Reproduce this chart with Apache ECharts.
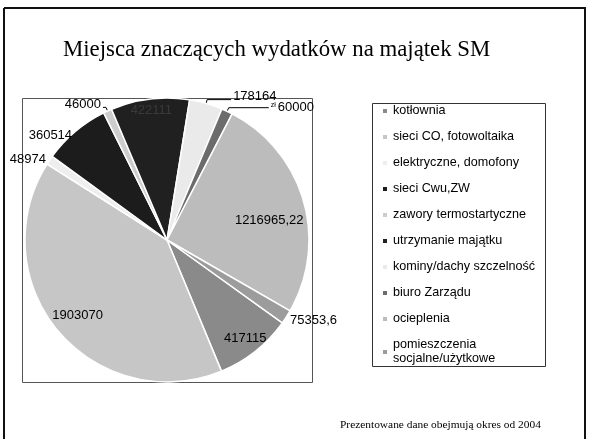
<!DOCTYPE html>
<html>
<head>
<meta charset="utf-8">
<script src="https://cdn.jsdelivr.net/npm/echarts@6/dist/echarts.min.js"></script>
<style>
  html, body { margin: 0; padding: 0; background: #fff; }
  #content { width: 589px; height: 439px; }
</style>
</head>
<body>
<div id="content"></div>
<script>
// dane z wykresu (zgodnie z ruchem wskazówek zegara)
var names = ['kotłownia', 'sieci CO, fotowoltaika', 'elektryczne, domofony', 'sieci Cwu,ZW',
  'zawory termostartyczne', 'utrzymanie majątku', 'kominy/dachy szczelność', 'biuro Zarządu',
  'ocieplenia', 'pomieszczenia socjalne/użytkowe'];
var values = [417115, 1903070, 48974, 360514, 46000, 422111, 178164, 60000, 1216965.22, 75353.6];
var colors = ['#8a8a8a', '#c6c6c6', '#eeeeee', '#1c1c1c', '#cdcdcd', '#202020', '#eaeaea', '#6c6c6c', '#bcbcbc', '#9c9c9c'];

var CX = 167, CY = 240, R = 142;
// etykiety wewnątrz: indeks -> ułamek promienia
var insideRatio = {0: 0.85, 1: 0.79, 5: 0.88, 8: 0.72};
var myChart = echarts.init(document.getElementById('content'), null, {renderer: 'canvas'});

function fmt(v) {
  return String(v).replace('.', ',');
}

var data = names.map(function (n, i) {
  var item = {name: n, value: values[i], itemStyle: {color: colors[i]}};
  if (insideRatio[i] !== undefined) {
    item.label = {position: 'inside', color: i === 5 ? '#3a3a3a' : '#000'};
  }
  if (i === 4) { // 46000
    item.labelLine = {show: true, length: 4, length2: 3};
  }
  if (i === 6) { // 178164
    item.labelLine = {show: true, length: 4, length2: 24};
  }
  if (i === 7) { // 60000 zł
    item.labelLine = {show: true, length: 4, length2: 40};
  }
  return item;
});

var option = {
  backgroundColor: '#fff',
  animation: false,
  title: [
    {
      text: 'Miejsca znaczących wydatków na majątek SM',
      left: 58, top: 34,
      textStyle: {fontFamily: 'Liberation Serif', fontSize: 22.8, fontWeight: 'normal', color: '#000'}
    },
    {
      text: 'Prezentowane dane obejmują okres od 2004',
      left: 335, top: 415,
      textStyle: {fontFamily: 'Liberation Serif', fontSize: 11.4, fontWeight: 'normal', color: '#000'}
    }
  ],
  legend: {
    orient: 'vertical',
    left: 376, top: 99,
    itemWidth: 6, itemHeight: 6,
    itemGap: 12,
    icon: 'rect',
    data: names,
    textStyle: {fontFamily: 'Liberation Sans', fontSize: 12.6, color: '#000', lineHeight: 14},
    formatter: function (name) {
      return name.replace('pomieszczenia ', 'pomieszczenia\n');
    }
  },
  graphic: [
    // ramka slajdu
    {type: 'line', shape: {x1: 4, y1: 8, x2: 4, y2: 439}, style: {stroke: '#111', lineWidth: 2}},
    {type: 'line', shape: {x1: 4, y1: 8, x2: 586, y2: 8}, style: {stroke: '#111', lineWidth: 2}},
    {type: 'line', shape: {x1: 585, y1: 8, x2: 585, y2: 439}, style: {stroke: '#111', lineWidth: 2}},
    // obszar wykresu
    {type: 'rect', shape: {x: 22.5, y: 98.5, width: 290, height: 284}, style: {fill: 'none', stroke: '#555', lineWidth: 1}, z: -1},
    // ramka legendy
    {type: 'rect', shape: {x: 372.5, y: 103.5, width: 173, height: 263}, style: {fill: 'none', stroke: '#333', lineWidth: 1}}
  ],
  series: [
    {
      type: 'pie',
      center: [CX, CY],
      radius: R,
      startAngle: 90 - 125.7,
      clockwise: true,
      avoidLabelOverlap: false,
      data: data,
      itemStyle: {borderColor: '#fff', borderWidth: 1.5},
      label: {
        position: 'outside',
        fontFamily: 'Liberation Sans',
        fontSize: 13,
        color: '#000',
        distanceToLabelLine: 2,
        formatter: function (p) {
          if (p.dataIndex === 7) return '{u|zł}' + fmt(p.value);
          return fmt(p.value);
        },
        rich: {
          u: {fontSize: 7, verticalAlign: 'top', padding: [0, 2, 6, 0], fontFamily: 'Liberation Sans', color: '#000'}
        }
      },
      labelLine: {show: false, length: 2, length2: 0, lineStyle: {color: '#000', width: 1}},
      labelLayout: function (p) {
        var i = p.dataIndex;
        if (insideRatio[i] !== undefined) {
          var lx = p.labelRect.x + p.labelRect.width / 2;
          var ly = p.labelRect.y + p.labelRect.height / 2;
          var k = insideRatio[i] / 0.5 - 1;
          var extra = i === 8 ? 10 : 0;
          return {dx: (lx - CX) * k, dy: (ly - CY) * k + extra};
        }
        if (i === 9) return {dy: 2};
        if (i === 3) return {dy: 5};
        if (i === 4) return {dy: -3};
        if (i === 6) return {dy: -3};
        return {};
      }
    }
  ]
};

myChart.setOption(option);
</script>
</body>
</html>
